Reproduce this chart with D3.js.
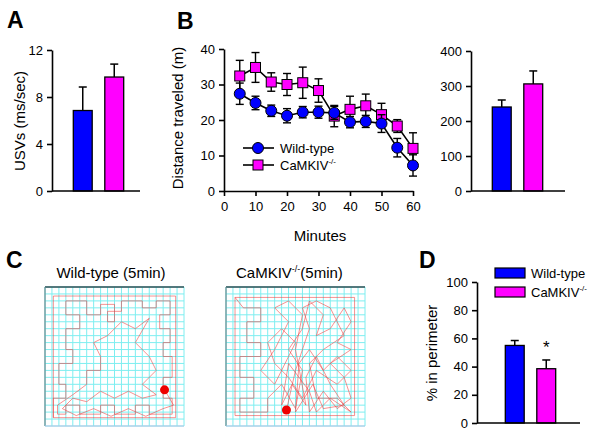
<!DOCTYPE html>
<html>
<head>
<meta charset="utf-8">
<script src="https://cdn.jsdelivr.net/npm/d3@7"></script>
<style>
  body { margin: 0; background: #fff; }
  svg { font-family: Arial, "Liberation Sans", sans-serif; }
</style>
</head>
<body>
<div id="app"></div>
<script>
// ---- data ----
const groups = ['Wild-type', 'CaMKIV-/-']
const colors = ['#0000ff', '#ff00ff']

const usvMean = [6.85, 9.7]
const usvErr = [2.0, 1.1]

const minutes = [5, 10, 15, 20, 25, 30, 35, 40, 45, 50, 55, 60]
const wtDist = [27.4, 24.8, 22.6, 21.2, 22.2, 22.2, 22.0, 19.4, 19.6, 19.0, 12.2, 7.2]
const wtSem = [3.0, 1.9, 1.6, 2.0, 1.6, 1.7, 1.8, 1.6, 1.7, 2.5, 2.6, 3.0]
const koDist = [32.4, 34.8, 30.7, 30.0, 30.5, 28.3, 21.1, 23.0, 24.0, 21.5, 18.3, 12.0]
const koSem = [4.4, 4.2, 2.6, 3.1, 4.4, 3.3, 3.0, 3.7, 3.3, 3.2, 1.8, 4.4]

const totalMean = [240, 306]
const totalErr = [20, 37]

const perimMean = [55, 38.5]
const perimErr = [3.5, 6.2]

// open field tracks, arena grid units (0-20), last point = red dot
const wtTrack = [[1.2,18.8],[1.2,1.3],[18.8,1.3],[18.8,18.8],[1.2,18.8],
  [1.2,16],[3,16],[3,14],[2,14],[2,11],[4,11],[4,9],[3,9],[3,6],[5,6],[5,4],[3,4],[3,2],[6,2],[6,4],[8,4],
  [8,2.5],[10,2.5],[10,5],[9,5],[9,3.5],[11,3.5],[11,2],[14,2],[14,3],[16,3],[16,2],[18,2],[18,4],[16.5,4],
  [16.5,6],[18,6],[18,8],[17,8],[17,10],[18.3,10],[18.3,13],[17,13],[17,16],[18.3,16],[18.3,18.3],[15,18.3],
  [15,17],[13,17],[13,18.3],[10,18.3],[10,17],[8,17],[8,18.3],[5,18.3],[5,17],[3,17],[3,18.3],[1.8,18.3],
  [1.8,17],[4,15.5],[6,14],[6,12],[8,12],[8,10],[7,8],[9,7],[11,5],[13,6],[15,4.5],[13,8],[15,10],[16,12],
  [14,14],[16,15.5],[14,16],[12,15],[10,16],[8,15],[6,16.5],[4,16],[2.5,17.5],[4.5,18.5],[7,17.5],[9.5,18.6],
  [12,17.5],[14.5,18.6],[17,17.5],[18.5,17],[17.2,14.8]]
const koTrack = [[1.3,1.5],[18.5,1.5],[18.5,18.5],[1.3,18.5],[1.3,1.5],
  [2.5,3],[5,3],[5,5],[3,5],[3,8],[5,8],[5,10],[2,10],[2,13],[4,13],[4,16],[2,16],[2,18],[6,18],[6,16],
  [8,14],[10,17.5],[11,12],[9,9],[11,6],[12,2],[14,4],[13,7],[15,6],[17,3],[18,5],[16,8],[18,9],[15,11],
  [17,13],[18,16],[16,17.5],[14,15],[12,18],[11.5,13],[13,10],[15,14],[17,17],[14,17.5],[12.5,14],[10,18],
  [10.5,11],[12,9],[14,12],[16,10],[18,12],[16,14],[13,12],[11,16],[9,13],[7,11],[6,8],[8,6],[10,8],[9,10],
  [7,14],[5,12],[7,9],[9,5],[7,3],[9,2],[11,4],[10,9],[11.5,17],[9.5,14],[8,17],[9,11],[12,15],[13,18],
  [15,16],[18,18],[16,16],[13,16],[12,11],[14,9],[17,7],[15,3],[13,2],[11,3],[12,6],[10,12],[8.7,17.7]]

// ---- drawing ----
const svg = d3.select('#app').append('svg').attr('width', 600).attr('height', 433)

function styleAxis(g) {
  g.select('.domain').attr('stroke', '#000').attr('stroke-width', 1.6)
  g.selectAll('.tick line').attr('stroke', '#000').attr('stroke-width', 1.6)
  g.selectAll('.tick text').attr('font-size', 13).attr('fill', '#000')
}

function panelLetter(t, x, y) {
  svg.append('text').attr('x', x).attr('y', y).text(t)
    .attr('font-size', 23).attr('font-weight', 'bold')
}

function yLabel(t, x, y) {
  svg.append('text').attr('transform', `translate(${x},${y}) rotate(-90)`)
    .attr('text-anchor', 'middle').attr('font-size', 15).text(t)
}

function barPanel(o) {
  const y = d3.scaleLinear().domain([0, o.max]).range([o.y0, o.y1])
  const x = d3.scaleBand().domain(groups).range(o.band).paddingInner(0.4).paddingOuter(0.2)
  const g = svg.append('g')
  // error bars (upper only)
  g.selectAll('.err').data(groups).enter().append('g').each(function (d, i) {
    const cx = x(d) + x.bandwidth() / 2
    const e = d3.select(this)
    e.append('line').attr('x1', cx).attr('x2', cx)
      .attr('y1', y(o.mean[i])).attr('y2', y(o.mean[i] + o.err[i]))
      .attr('stroke', '#000').attr('stroke-width', 1.5)
    e.append('line').attr('x1', cx - 4).attr('x2', cx + 4)
      .attr('y1', y(o.mean[i] + o.err[i])).attr('y2', y(o.mean[i] + o.err[i]))
      .attr('stroke', '#000').attr('stroke-width', 1.5)
  })
  g.selectAll('rect').data(groups).enter().append('rect')
    .attr('x', d => x(d)).attr('width', x.bandwidth())
    .attr('y', (d, i) => y(o.mean[i])).attr('height', (d, i) => o.y0 - y(o.mean[i]))
    .attr('fill', (d, i) => colors[i]).attr('stroke', '#000').attr('stroke-width', 1.3)
  g.append('g').attr('transform', `translate(${o.ax},0)`)
    .call(d3.axisLeft(y).tickValues(o.ticks).tickSize(5).tickSizeOuter(0).tickPadding(4))
    .call(styleAxis)
  g.append('line').attr('x1', o.ax).attr('x2', o.axEnd).attr('y1', o.y0).attr('y2', o.y0)
    .attr('stroke', '#000').attr('stroke-width', 1.6)
  return { x, y }
}

// Panel A
panelLetter('A', 7, 28)
barPanel({ max: 12, y0: 191, y1: 50, band: [67, 130], ax: 52, axEnd: 140,
  ticks: [0, 4, 8, 12], mean: usvMean, err: usvErr })
yLabel('USVs (ms/sec)', 25, 121)

// Panel B (time course)
panelLetter('B', 177, 29)
const bx = d3.scaleLinear().domain([0, 60]).range([224, 413])
const by = d3.scaleLinear().domain([0, 40]).range([191, 49])
svg.append('g').attr('transform', 'translate(224,0)')
  .call(d3.axisLeft(by).tickValues([0, 10, 20, 30, 40]).tickSize(5).tickSizeOuter(0).tickPadding(4))
  .call(styleAxis)
svg.append('g').attr('transform', 'translate(0,191)')
  .call(d3.axisBottom(bx).tickValues([0, 10, 20, 30, 40, 50, 60]).tickSize(5).tickSizeOuter(0).tickPadding(6))
  .call(styleAxis)
svg.append('text').attr('x', 320).attr('y', 241).attr('text-anchor', 'middle')
  .attr('font-size', 15).text('Minutes')
yLabel('Distance traveled (m)', 183, 118)

const series = [
  { mean: wtDist, sem: wtSem, color: colors[0], shape: 'circle' },
  { mean: koDist, sem: koSem, color: colors[1], shape: 'square' }
]
const line = d3.line().x((d, i) => bx(minutes[i])).y(d => by(d))
series.slice().reverse().forEach(s => {
  const g = svg.append('g')
  g.append('path').attr('d', line(s.mean)).attr('fill', 'none')
    .attr('stroke', '#000').attr('stroke-width', 1.6)
  s.mean.forEach((m, i) => {
    const cx = bx(minutes[i])
    const lo = by(m - s.sem[i]), hi = by(m + s.sem[i])
    g.append('line').attr('x1', cx).attr('x2', cx).attr('y1', lo).attr('y2', hi)
      .attr('stroke', '#000').attr('stroke-width', 1.4)
    ;[lo, hi].forEach(yy => g.append('line').attr('x1', cx - 4).attr('x2', cx + 4)
      .attr('y1', yy).attr('y2', yy).attr('stroke', '#000').attr('stroke-width', 1.4))
  })
  s.mean.forEach((m, i) => {
    const cx = bx(minutes[i]), cy = by(m)
    if (s.shape === 'circle') {
      g.append('circle').attr('cx', cx).attr('cy', cy).attr('r', 5.5)
        .attr('fill', s.color).attr('stroke', '#000').attr('stroke-width', 1)
    } else {
      g.append('rect').attr('x', cx - 5).attr('y', cy - 5).attr('width', 10).attr('height', 10)
        .attr('fill', s.color).attr('stroke', '#000').attr('stroke-width', 1)
    }
  })
})
// legend for B
const bLeg = svg.append('g')
;[148, 165].forEach((yy, i) => {
  bLeg.append('line').attr('x1', 243).attr('x2', 274).attr('y1', yy).attr('y2', yy)
    .attr('stroke', '#000').attr('stroke-width', 1.6)
  if (i === 0) bLeg.append('circle').attr('cx', 258).attr('cy', yy).attr('r', 5.5)
    .attr('fill', colors[0]).attr('stroke', '#000')
  else bLeg.append('rect').attr('x', 253).attr('y', yy - 5).attr('width', 10).attr('height', 10)
    .attr('fill', colors[1]).attr('stroke', '#000')
})
bLeg.append('text').attr('x', 280).attr('y', 153).attr('font-size', 13).text('Wild-type')
const bt = bLeg.append('text').attr('x', 280).attr('y', 170).attr('font-size', 13).text('CaMKIV')
bt.append('tspan').attr('font-size', 8).attr('dy', -6).text('-/-')

// Panel B right (total)
barPanel({ max: 400, y0: 191, y1: 51, band: [486, 549], ax: 471, axEnd: 565,
  ticks: [0, 100, 200, 300, 400], mean: totalMean, err: totalErr })

// Panel C
panelLetter('C', 6, 268)
function arena(x0, track) {
  const size = 139, y0 = 287
  const s = d3.scaleLinear().domain([0, 20]).range([0, size])
  const g = svg.append('g').attr('transform', `translate(${x0},${y0})`)
  g.selectAll('.gv').data(d3.range(0, 21)).enter().append('line')
    .attr('x1', d => s(d)).attr('x2', d => s(d)).attr('y1', 0).attr('y2', size)
    .attr('stroke', '#7eeef0').attr('stroke-width', 1)
  g.selectAll('.gh').data(d3.range(0, 21)).enter().append('line')
    .attr('y1', d => s(d)).attr('y2', d => s(d)).attr('x1', 0).attr('x2', size)
    .attr('stroke', '#7eeef0').attr('stroke-width', 1)
  g.append('line').attr('x1', 0).attr('x2', size).attr('y1', 0).attr('y2', 0)
    .attr('stroke', '#2f4f55').attr('stroke-width', 1.5)
  g.append('line').attr('x1', 0).attr('x2', 0).attr('y1', 0).attr('y2', size)
    .attr('stroke', '#6b8a8f').attr('stroke-width', 1.2)
  g.append('line').attr('x1', 0).attr('x2', size).attr('y1', size).attr('y2', size)
    .attr('stroke', '#b8c4e6').attr('stroke-width', 1.2)
  g.append('path').attr('d', d3.line().x(d => s(d[0])).y(d => s(d[1]))(track))
    .attr('fill', 'none').attr('stroke', '#f03c3c').attr('stroke-opacity', 0.7).attr('stroke-width', 0.8)
  const last = track[track.length - 1]
  g.append('circle').attr('cx', s(last[0])).attr('cy', s(last[1])).attr('r', 4.5).attr('fill', '#ee0000')
  return g
}
arena(45, wtTrack)
arena(226, koTrack)
svg.append('text').attr('x', 111).attr('y', 278).attr('text-anchor', 'middle')
  .attr('font-size', 15).text('Wild-type (5min)')
const ct = svg.append('text').attr('x', 236).attr('y', 278).attr('font-size', 15).text('CaMKIV')
ct.append('tspan').attr('font-size', 9).attr('dy', -6).text('-/-')
ct.append('tspan').attr('dy', 6).text('(5min)')

// Panel D
panelLetter('D', 419, 268)
const d = barPanel({ max: 100, y0: 423, y1: 282, band: [499, 562], ax: 477, axEnd: 580,
  ticks: [0, 20, 40, 60, 80, 100], mean: perimMean, err: perimErr })
yLabel('% in perimeter', 437, 353)
svg.append('text').attr('x', d.x(groups[1]) + d.x.bandwidth() / 2).attr('y', 353)
  .attr('text-anchor', 'middle').attr('font-size', 17).text('*')
const dLeg = svg.append('g')
groups.forEach((gname, i) => {
  const yy = 268 + i * 19
  dLeg.append('rect').attr('x', 495).attr('y', yy).attr('width', 30).attr('height', 10)
    .attr('fill', colors[i]).attr('stroke', '#000').attr('stroke-width', 1.2)
})
dLeg.append('text').attr('x', 531).attr('y', 278).attr('font-size', 13).text('Wild-type')
const dt = dLeg.append('text').attr('x', 531).attr('y', 297).attr('font-size', 13).text('CaMKIV')
dt.append('tspan').attr('font-size', 8).attr('dy', -6).text('-/-')
</script>
</body>
</html>
